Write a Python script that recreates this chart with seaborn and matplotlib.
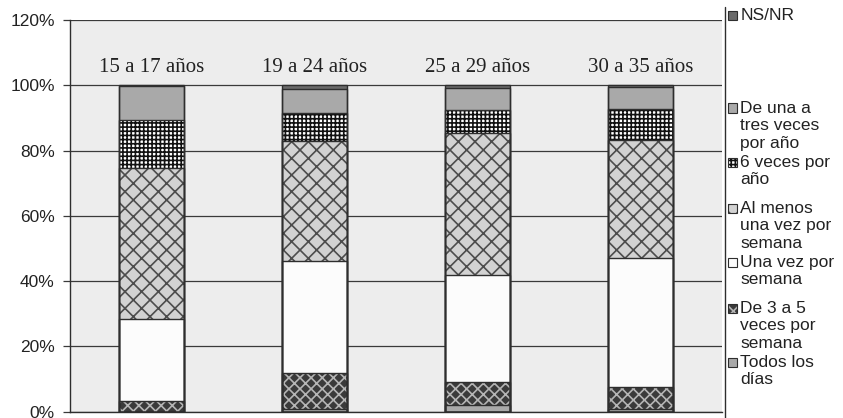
import numpy as np
import pandas as pd
import matplotlib
matplotlib.use("Agg")
import matplotlib.pyplot as plt
from matplotlib.patches import Rectangle
from matplotlib.lines import Line2D
import seaborn as sns

# Datos (porcentajes, de abajo hacia arriba)
grupos = ["15 a 17 años", "19 a 24 años", "25 a 29 años", "30 a 35 años"]
todos_los_dias = [0.0, 0.7, 2.0, 0.7]
de_3_a_5 = [3.3, 11.3, 7.2, 6.8]
una_vez_semana = [25.1, 34.2, 32.6, 39.6]
al_menos_semana = [46.3, 36.6, 43.6, 36.0]
seis_veces_anio = [14.8, 8.7, 6.9, 9.7]
una_a_tres_anio = [10.4, 7.4, 7.0, 6.7]
ns_nr = [0.1, 1.1, 0.7, 0.5]

series_nombres = ["Todos los\ndías", "De 3 a 5\nveces por\nsemana", "Una vez por\nsemana",
                  "Al menos\nuna vez por\nsemana", "6 veces por\naño",
                  "De una a\ntres veces\npor año", "NS/NR"]
series_valores = [todos_los_dias, de_3_a_5, una_vez_semana, al_menos_semana,
                  seis_veces_anio, una_a_tres_anio, ns_nr]

# estilo de cada serie: color de fondo, trama, color de trama
estilos = [
    ("#a9a9a9", "", "#a9a9a9"),
    ("#3a3a3a", "xxx", "#b5b5b5"),
    ("#fcfcfc", "", "#fcfcfc"),
    ("#d2d2d2", "xx", "#4d4d4d"),
    ("#ffffff", "++++", "#111111"),
    ("#a9a9a9", "", "#a9a9a9"),
    ("#6a6a6a", "", "#6a6a6a"),
]

df = pd.DataFrame({"grupo": grupos})
for nombre, vals in zip(series_nombres, series_valores):
    df[nombre] = vals
acum = df[series_nombres].cumsum(axis=1)

sns.set_style("white")
plt.rcParams["font.family"] = ["Liberation Sans", "DejaVu Sans"]
plt.rcParams["hatch.linewidth"] = 1.2

fig = plt.figure(figsize=(8.43, 4.18), dpi=100)
ax = fig.add_axes([70 / 843, 1 - 411.7 / 418, (722 - 70) / 843, (411.7 - 20) / 418])
ax.set_facecolor("#ededed")

# barras apiladas: se dibuja el acumulado de arriba hacia abajo
for nombre, (fc, hatch, hc) in reversed(list(zip(series_nombres, estilos))):
    sns.barplot(x=df["grupo"], y=acum[nombre], color=fc, saturation=1, width=0.4,
                errorbar=None, hatch=hatch, edgecolor=hc, linewidth=0, ax=ax)
for nombre in series_nombres:
    sns.barplot(x=df["grupo"], y=acum[nombre], fill=False, width=0.4, errorbar=None,
                edgecolor="#2e2e2e", linewidth=1.0, ax=ax)

ax.set_ylim(0, 120)
ax.set_yticks(np.arange(0, 121, 20))
ax.set_yticklabels([f"{v}%" for v in range(0, 121, 20)], fontsize=12.5, color="#222222")
ax.set_xticks([])
ax.set_xlabel("")
ax.set_ylabel("")
ax.yaxis.grid(True, color="#3a3a3a", linewidth=0.9)
ax.set_axisbelow(True)
ax.tick_params(axis="y", length=5, width=0.9, color="#3a3a3a", pad=6, left=True)
for lado in ["top", "right"]:
    ax.spines[lado].set_visible(False)
for lado in ["left", "bottom"]:
    ax.spines[lado].set_color("#2e2e2e")
    ax.spines[lado].set_linewidth(1.0)

for i, g in enumerate(grupos):
    ax.text(i, 105.4, g, ha="center", va="center", fontsize=15,
            family="Liberation Serif", color="#222222")

# leyenda a mano a la derecha
fig.add_artist(Line2D([725 / 843, 725 / 843], [0, 1 - 7 / 418],
                      transform=fig.transFigure, color="#2e2e2e", linewidth=1.0))
centros = [15, 108, 162, 208, 262, 308, 362]
orden = list(zip(series_nombres, estilos))[::-1]
for (nombre, (fc, hatch, hc)), yc in zip(orden, centros):
    fig.add_artist(Rectangle((728 / 843, 1 - (yc + 4.5) / 418), 9 / 843, 9 / 418,
                             transform=fig.transFigure, facecolor=fc, hatch=hatch,
                             edgecolor=hc, linewidth=0))
    fig.add_artist(Rectangle((728 / 843, 1 - (yc + 4.5) / 418), 9 / 843, 9 / 418,
                             transform=fig.transFigure, fill=False,
                             edgecolor="#2e2e2e", linewidth=0.8))
    fig.text(740.5 / 843, 1 - (yc - 7) / 418, nombre, ha="left", va="top",
             fontsize=12.5, linespacing=1.2, color="#222222")

fig.savefig("out.png", dpi=100)
